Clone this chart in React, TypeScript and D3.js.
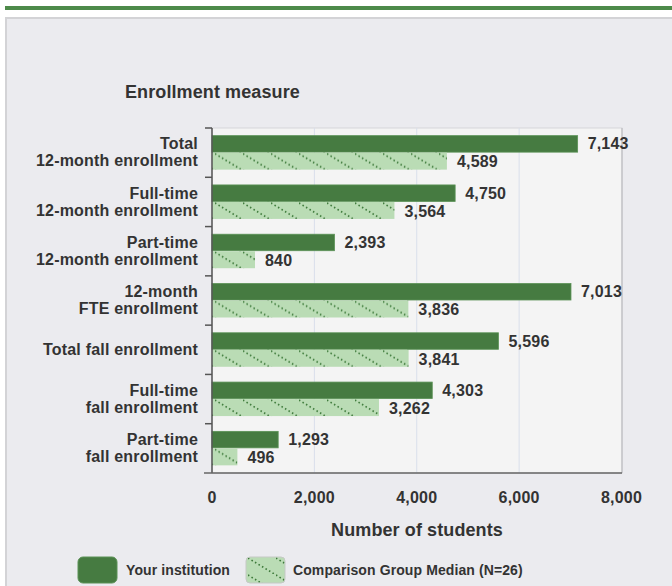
import React from "react";
import * as d3 from "d3";

const categories: string[][] = [
  ["Total", "12-month enrollment"],
  ["Full-time", "12-month enrollment"],
  ["Part-time", "12-month enrollment"],
  ["12-month", "FTE enrollment"],
  ["Total fall enrollment"],
  ["Full-time", "fall enrollment"],
  ["Part-time", "fall enrollment"],
];
const institutionValues = [7143, 4750, 2393, 7013, 5596, 4303, 1293];
const comparisonValues = [4589, 3564, 840, 3836, 3841, 3262, 496];
const xTicks = [0, 2000, 4000, 6000, 8000];
const seriesNames = ["Your institution", "Comparison Group Median (N=26)"];

const W = 672;
const H = 586;
const plot = { left: 212, right: 622, top: 128, bottom: 473 };
const DARK = "#467b41";
const LIGHT = "#badcb5";
const TEXT = "#333333";
const FONT = "'Liberation Sans', Arial, sans-serif";

export default function App() {
  const x = d3.scaleLinear().domain([0, 8000]).range([plot.left, plot.right - 0.5]);
  const idx = categories.map((_, i) => String(i));
  const y = d3.scaleBand<string>().domain(idx).range([plot.top, plot.bottom]).padding(0);
  const inner = d3
    .scaleBand<string>()
    .domain(["inst", "comp"])
    .range([0, y.bandwidth()])
    .paddingInner(0)
    .paddingOuter(0.45);
  const fmt = d3.format(",");
  const labelStyle = { fontFamily: FONT, fontWeight: 700, fill: TEXT } as const;

  return (
    <svg
      width={W}
      height={H}
      style={{ position: "absolute", left: 0, top: 0, background: "#fff" }}
    >
      <defs>
        {categories.map((_, i) => {
          const yc = y(String(i))! + inner("comp")!;
          return (
            <pattern key={i} id={`hatch${i}`} patternUnits="userSpaceOnUse" x={plot.left + 3} y={yc} width={28} height={17}>
              <rect width={28} height={17} fill={LIGHT} />
              <line x1={0} y1={1} x2={28} y2={18} stroke="#3b7838" strokeWidth={1.7} strokeDasharray="1.5 2.6" />
            </pattern>
          );
        })}
        <pattern id="hatchLegend" patternUnits="userSpaceOnUse" x={248} y={557} width={28} height={17}>
          <rect width={28} height={17} fill={LIGHT} />
          <line x1={0} y1={1} x2={28} y2={18} stroke="#3b7838" strokeWidth={1.7} strokeDasharray="1.5 2.6" />
        </pattern>
      </defs>
      {/* top green rule */}
      <rect x={5} y={6} width={W - 5} height={4} fill="#4d8a4a" />
      {/* panel */}
      <rect x={6} y={18} width={W} height={H} fill="#ebebef" stroke="#d3d3d6" strokeWidth={2} />
      {/* plot area */}
      <rect
        x={plot.left}
        y={plot.top}
        width={plot.right - plot.left}
        height={plot.bottom - plot.top}
        fill="#f4f4f4"
        stroke="#d6d6da"
        strokeWidth={1}
      />
      {xTicks.slice(1, -1).map((t) => (
        <line key={t} x1={x(t)} x2={x(t)} y1={plot.top} y2={plot.bottom} stroke="#d9dfeb" strokeWidth={1} />
      ))}
      <line x1={plot.right} x2={plot.right} y1={plot.top} y2={plot.bottom} stroke="#bdbdc2" strokeWidth={1.2} />
      {/* bars */}
      {categories.map((_, i) => {
        const b = y(String(i))!;
        const yi = b + inner("inst")!;
        const yc = b + inner("comp")!;
        const h = inner.bandwidth();
        return (
          <g key={i}>
            <rect x={x(0)} y={yi} width={x(institutionValues[i]) - x(0)} height={h - 0.5} fill={DARK} stroke="#5b9256" strokeWidth={0.8} />
            <rect x={x(0)} y={yc} width={x(comparisonValues[i]) - x(0)} height={h} fill={`url(#hatch${i})`} />
            <text x={x(institutionValues[i]) + 10} y={yi + h / 2 + 1} dominantBaseline="middle" fontSize={16} letterSpacing={0.2} style={labelStyle}>
              {fmt(institutionValues[i])}
            </text>
            <text x={x(comparisonValues[i]) + 10} y={yc + h / 2 + 2} dominantBaseline="middle" fontSize={16} letterSpacing={0.2} style={labelStyle}>
              {fmt(comparisonValues[i])}
            </text>
          </g>
        );
      })}
      {/* axes */}
      <line x1={plot.left} x2={plot.left} y1={plot.top} y2={plot.bottom} stroke="#555" strokeWidth={1.5} />
      <line x1={plot.left - 8} x2={plot.right} y1={plot.bottom} y2={plot.bottom} stroke="#666" strokeWidth={1.5} />
      {categories.map((_, i) => (
        <line key={i} x1={plot.left - 7} x2={plot.left} y1={y(String(i))!} y2={y(String(i))!} stroke="#555" strokeWidth={1.5} />
      ))}
      {/* category labels */}
      {categories.map((lines, i) => {
        const c = y(String(i))! + y.bandwidth() / 2 + 1;
        const lh = 17;
        const start = c - ((lines.length - 1) * lh) / 2;
        return (
          <text key={i} textAnchor="end" fontSize={16} letterSpacing={0.2} style={labelStyle}>
            {lines.map((l, j) => (
              <tspan key={j} x={198} y={start + j * lh} dominantBaseline="middle">
                {l}
              </tspan>
            ))}
          </text>
        );
      })}
      {/* x tick labels */}
      {xTicks.map((t) => (
        <text key={t} x={x(t)} y={499} textAnchor="middle" dominantBaseline="middle" fontSize={16} letterSpacing={0.2} style={labelStyle}>
          {fmt(t)}
        </text>
      ))}
      <text x={(plot.left + plot.right) / 2} y={531} textAnchor="middle" dominantBaseline="middle" fontSize={18} letterSpacing={0.1} style={labelStyle}>
        Number of students
      </text>
      <text x={125} y={93} dominantBaseline="middle" fontSize={18} letterSpacing={0.1} style={labelStyle}>
        Enrollment measure
      </text>
      {/* legend */}
      <rect x={78} y={557} width={39} height={26} rx={5} fill={DARK} stroke="#5b9256" strokeWidth={1} />
      <text x={126} y={571} dominantBaseline="middle" fontSize={14} letterSpacing={0.1} style={labelStyle}>
        {seriesNames[0]}
      </text>
      <rect x={246} y={557} width={39} height={26} rx={4} fill="url(#hatchLegend)" stroke="#c5c9c5" strokeWidth={1} />
      <text x={293} y={571} dominantBaseline="middle" fontSize={14} letterSpacing={0.1} style={labelStyle}>
        {seriesNames[1]}
      </text>
    </svg>
  );
}
